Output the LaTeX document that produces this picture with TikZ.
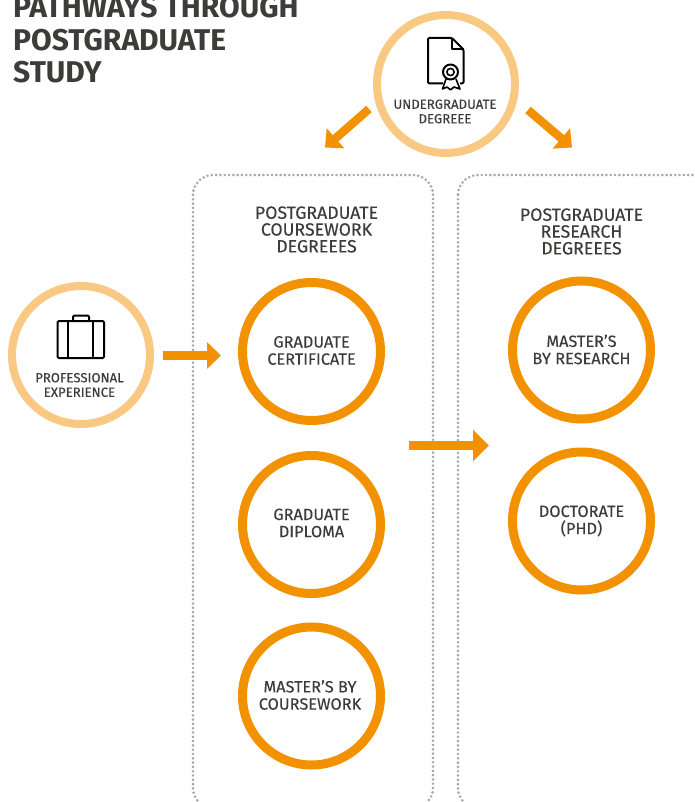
\documentclass[tikz,border=0pt]{standalone}
\usepackage{fontspec}
\setmainfont{Fira Sans}
\newfontfamily\labelfont[FakeBold=0.25]{Fira Sans}
\usetikzlibrary{arrows.meta,calc}
\definecolor{ora}{HTML}{F39200}
\definecolor{pale}{HTML}{F9C983}
\definecolor{dots}{HTML}{A6A6A6}
\definecolor{ink}{HTML}{3C3C3B}
\tikzset{
  ringbase/.style={circle,draw,inner sep=0pt},
  orangering/.style={ringbase,draw=ora,line width=9pt,minimum size=138pt},
  palering/.style={ringbase,draw=pale,line width=8pt,minimum size=138pt},
  ringtext/.style={text=ink,align=center,font=\labelfont\fontsize{16.3}{17.2}\selectfont},
  dotbox/.style={draw=dots,line width=2.9pt,rounded corners=20pt,dash pattern=on 0pt off 4.3pt,line cap=round},
  flow/.style={draw=ora,line width=8.5pt,-{Triangle[length=14pt,width=26pt,fill=ora]}},
  bigflow/.style={draw=ora,line width=8.5pt,-{Triangle[length=16pt,width=31pt,fill=ora]}},
  paneltext/.style={text=ink,font=\labelfont\fontsize{17.7}{16.8}\selectfont,align=center},
  smalltext/.style={text=ink,font=\labelfont\fontsize{13.2}{14.5}\selectfont,align=center},
  titletext/.style={anchor=base west,inner sep=0pt,text=ink,font=\fontsize{30}{32}\bfseries\selectfont,align=left},
  icon/.style={draw=black,line width=2pt,line join=round}
}
\begin{document}
\begin{tikzpicture}[x=1pt,y=-1pt]
\useasboundingbox (0,0) rectangle (695,802);
\clip (0,0) rectangle (695,802);
% dotted panels
\draw[dotbox] (193,175) rectangle (433,808);
\draw[dotbox] (458,175) rectangle (780,808);
% rings
\node[palering] (under) at (446,84) {};
\node[palering] (prof) at (81,355) {};
\node[orangering] (cert) at (311.5,351.5) {};
\node[orangering] (dipl) at (311.5,524.5) {};
\node[orangering] (mcw) at (311.5,696) {};
\node[orangering] (mres) at (581.5,350) {};
\node[orangering] (phd) at (581.5,521) {};
% ring labels
\node[ringtext] (certlabel) at (311.5,350.5) {GRADUATE\\CERTIFICATE};
\node[ringtext] (dipllabel) at (311.5,523) {GRADUATE\\DIPLOMA};
\node[ringtext] (mcwlabel) at (310,695) {MASTER’S BY\\COURSEWORK};
\node[ringtext] (mreslabel) at (581.5,349.5) {MASTER’S\\BY RESEARCH};
\node[ringtext] (phdlabel) at (581.5,521) {DOCTORATE\\(PHD)};
\node[smalltext] (underlabel) at (445,111.5) {UNDERGRADUATE\\DEGREEE};
\node[smalltext] (proflabel) at (79.5,385) {PROFESSIONAL\\EXPERIENCE};
% panel headings
\node[paneltext] (cwhead) at (316.5,229.5) {POSTGRADUATE\\COURSEWORK\\DEGREEES};
\node[paneltext] (rshead) at (581.5,231.5) {POSTGRADUATE\\RESEARCH\\DEGREEES};
% title
\node[titletext] (title1) at (13,18) {PATHWAYS THROUGH};
\node[titletext] (title2) at (13,50.5) {POSTGRADUATE};
\node[titletext] (title3) at (13,83) {STUDY};
% connectors
\coordinate (cwout) at (409,445.5);
\coordinate (rsin) at (489,445.5);
\coordinate (ula) at (325,147.5);
\coordinate (ura) at (572,147.5);
\draw[flow,shorten <=9pt,shorten >=17pt] (prof.east) ++(0,0.5) coordinate (ps) -- (ps -| cert.west);
\draw[bigflow] (cwout) -- (rsin);
\draw[flow] (under) ++(-77,25) coordinate (us1) -- (ula);
\draw[flow] (under) ++(82,26) coordinate (us2) -- (ura);
% certificate icon
\draw[icon,rounded corners=1.2pt] (443,83.5) -- (428,83.5) -- (428,38) -- (452,38) -- (463.5,49.5) -- (463.5,83.5) -- (460,83.5);
\draw[icon] (452,38) -- (452,49.5) -- (463.5,49.5);
\draw[icon] (450.5,72) circle (7.5);
\draw[icon,line width=1.6pt] (450.5,72) circle (3.6);
\draw[icon,line width=1.6pt] (446,79) -- (442.5,89) -- (447,87) -- (450,89.5) -- (451,89.5) -- (454,87) -- (460,89) -- (456,79);
% briefcase icon
\draw[icon,rounded corners=1.2pt] (57.5,321) rectangle (104,358);
\draw[icon] (68,321) -- (68,358) (93,321) -- (93,358);
\draw[icon,rounded corners=1.2pt] (73,321) -- (73,315.5) -- (89,315.5) -- (89,321);
\end{tikzpicture}
\end{document}
